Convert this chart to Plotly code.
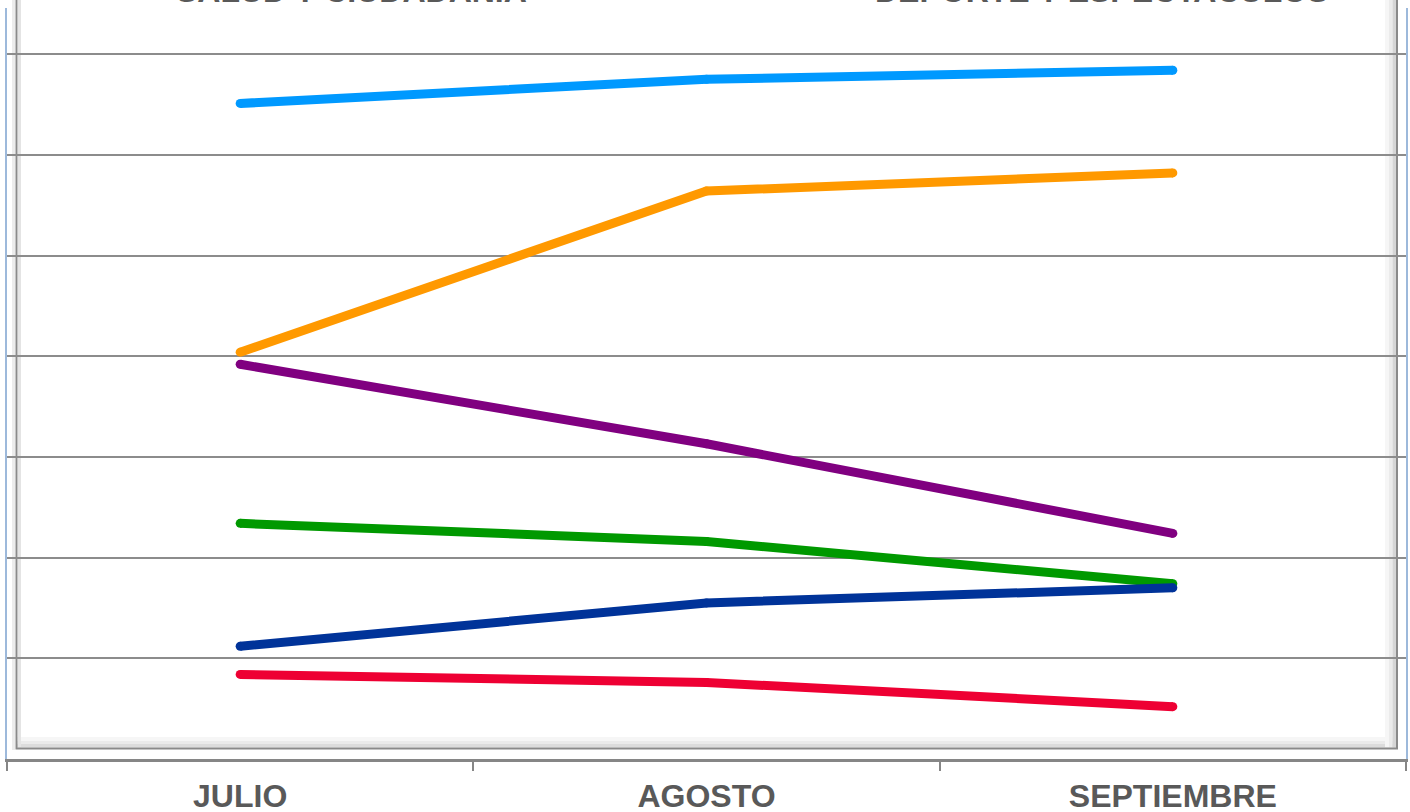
import plotly.graph_objects as go

# ---------------- data ----------------
months = ["JULIO", "AGOSTO", "SEPTIEMBRE"]

serie_celeste = [6.51, 6.75, 6.84]
serie_naranja = [4.04, 5.64, 5.82]
serie_morada = [3.92, 3.13, 2.24]
serie_verde = [2.34, 2.16, 1.74]
serie_azul = [1.12, 1.55, 1.70]
serie_roja = [0.84, 0.76, 0.52]

series_names = ["Serie celeste", "Serie naranja", "Serie morada",
                "Serie verde", "Serie azul", "Serie roja"]
series_values = [serie_celeste, serie_naranja, serie_morada,
                 serie_verde, serie_azul, serie_roja]
series_colors = ["#0099FF", "#FF9900", "#800080", "#009900", "#003399", "#EE0033"]

legend_labels = ["SALUD Y CIUDADANIA", "DEPORTE Y ESPECTACULOS"]

# ---------------- geometry helpers (decoration only) ----------------
W, H = 1410, 812
PX0, PX1 = 7, 1406      # plot area left/right in pixels
PY0, PY1 = 8, 759       # plot area top/bottom in pixels


def px(x):
    return (x - PX0) / (PX1 - PX0)


def py(y):
    return (PY1 - y) / (PY1 - PY0)


FONT = "Liberation Sans, Arial, sans-serif"

fig = go.Figure()

for name, vals, col in zip(series_names, series_values, series_colors):
    fig.add_trace(go.Scatter(
        x=months, y=vals, name=name, mode="lines+markers",
        line=dict(color=col, width=9),
        marker=dict(color=col, size=9, line=dict(width=0)),
        showlegend=False, hoverinfo="skip",
    ))

shapes = []
# inner bevel shading (bottom)
for (a, b, c) in [(737, 741, "#f6f6f6"), (741, 744, "#ebebeb"), (744, 747.5, "#dcdcdc")]:
    shapes.append(dict(type="rect", xref="paper", yref="paper", layer="below",
                       x0=px(17), x1=px(1396), y0=py(b), y1=py(a),
                       fillcolor=c, line=dict(width=0)))
# inner bevel shading (right)
for (a, b, c) in [(1385, 1389, "#f6f6f6"), (1389, 1392.5, "#ebebeb"), (1392.5, 1396, "#d6d6d6")]:
    shapes.append(dict(type="rect", xref="paper", yref="paper", layer="below",
                       x0=px(a), x1=px(b), y0=py(747.5), y1=py(0),
                       fillcolor=c, line=dict(width=0)))
# inner bevel shading (left)
shapes.append(dict(type="rect", xref="paper", yref="paper", layer="below",
                   x0=px(18), x1=px(21), y0=py(747.5), y1=py(0),
                   fillcolor="#e4e4e4", line=dict(width=0)))
shapes.append(dict(type="rect", xref="paper", yref="paper", layer="below",
                   x0=px(12), x1=px(15), y0=py(750), y1=py(0),
                   fillcolor="#ececec", line=dict(width=0)))
# inner frame outline
shapes.append(dict(type="rect", xref="paper", yref="paper", layer="below",
                   x0=px(16.5), x1=px(1397), y0=py(748.5), y1=py(-2),
                   fillcolor="rgba(0,0,0,0)", line=dict(color="#8a8a8a", width=2)))

annotations = []
for lab, cx in zip(legend_labels, [351, 1101]):
    annotations.append(dict(
        text=lab, xref="paper", yref="paper", x=px(cx), y=py(11),
        xanchor="center", yanchor="bottom", showarrow=False,
        font=dict(family=FONT, size=32, color="#595959", weight="bold"),
    ))

fig.update_layout(
    width=W, height=H,
    margin=dict(l=PX0, r=W - PX1, t=PY0, b=H - PY1, autoexpand=False),
    paper_bgcolor="white", plot_bgcolor="white",
    shapes=shapes, annotations=annotations,
    showlegend=False,
    xaxis=dict(
        type="category", range=[-0.5, 2.5], tickson="boundaries",
        showgrid=False, zeroline=False, automargin=False,
        showline=True, linecolor="#868686", linewidth=2.5,
        ticks="outside", ticklen=9, tickwidth=2, tickcolor="#868686",
        ticklabelstandoff=7,
        tickfont=dict(family=FONT, size=32, color="#595959", weight="bold"),
    ),
    yaxis=dict(
        range=[0, 751 / 100.7], dtick=1, tick0=0, automargin=False,
        showgrid=True, gridcolor="#8c8c8c", gridwidth=1.6,
        zeroline=False, showticklabels=False, ticks="",
        showline=True, linecolor="#9DB9DB", linewidth=2, mirror=True,
    ),
)

fig.write_html("out.html", config={"displayModeBar": False},
               post_script="document.body.style.margin='0px';")
